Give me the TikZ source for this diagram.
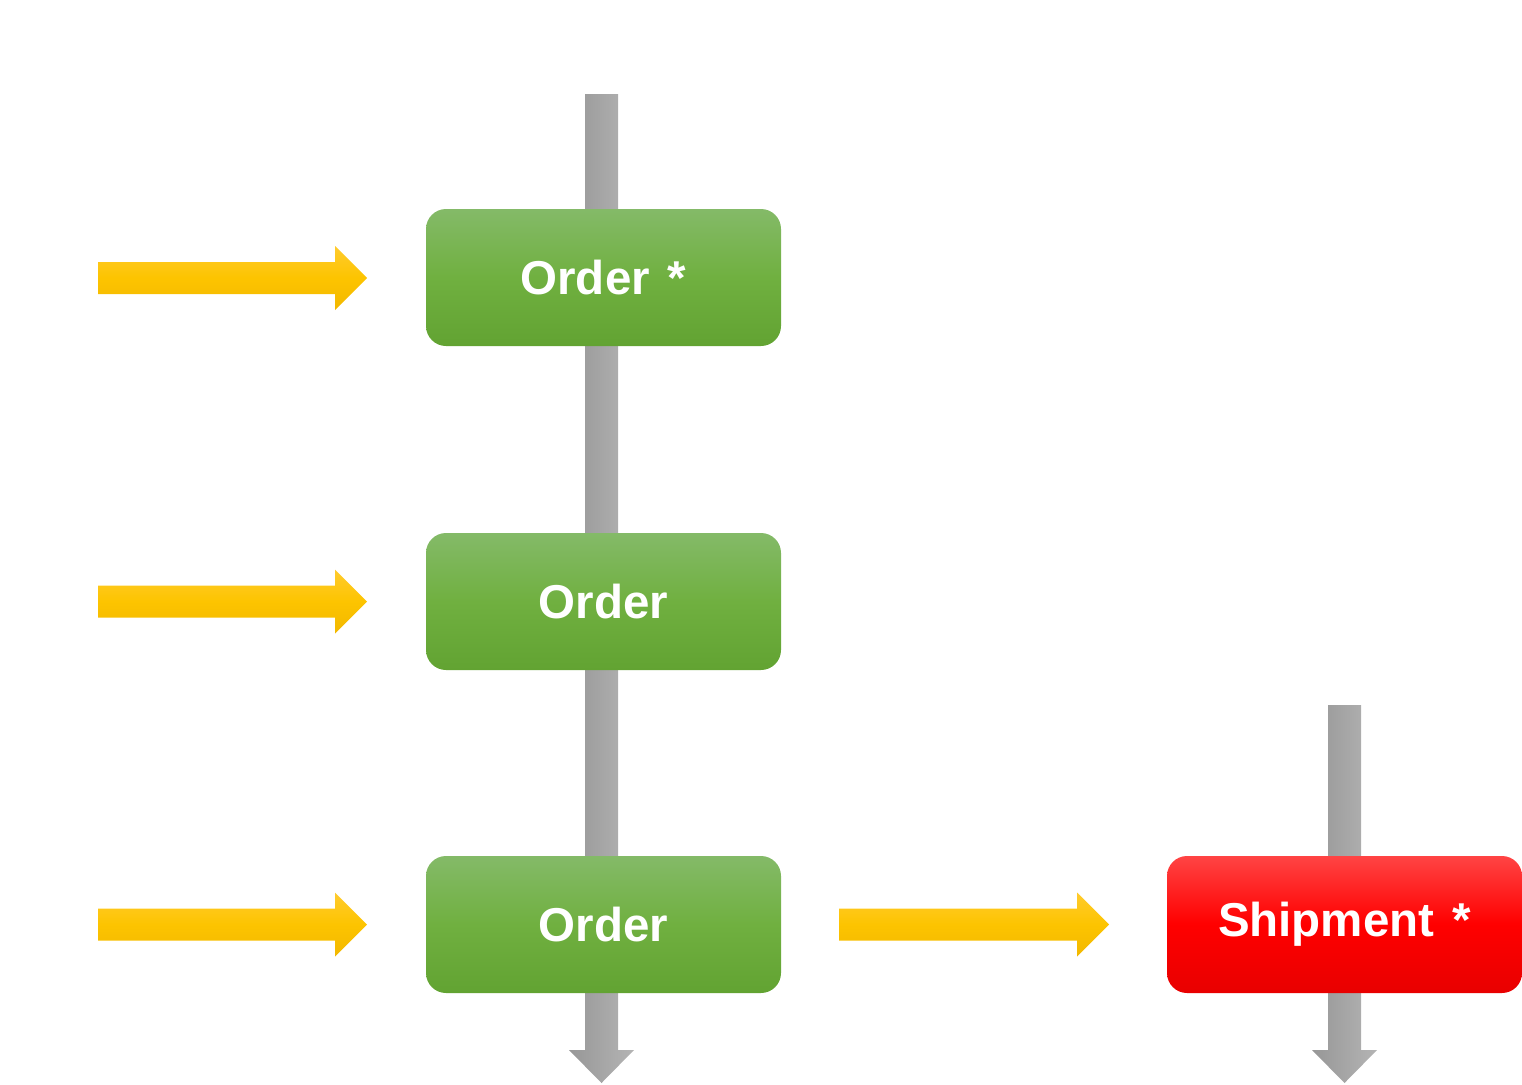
\documentclass[tikz,border=0pt]{standalone}
\usepackage{fontspec}
\setmainfont{Liberation Sans}
\definecolor{gtop}{HTML}{84BA68}
\definecolor{gmid}{HTML}{70B040}
\definecolor{gbot}{HTML}{62A332}
\definecolor{rtop}{HTML}{FF4444}
\definecolor{rmid}{HTML}{FF0000}
\definecolor{rbot}{HTML}{E80000}
\definecolor{ytop}{HTML}{FFCB2E}
\definecolor{ymid}{HTML}{FDC400}
\definecolor{ybot}{HTML}{F2B800}
\definecolor{barl}{HTML}{979797}
\definecolor{barr}{HTML}{B4B4B4}
\tikzset{
  boxbase/.style={rounded corners=20pt, minimum width=355pt, minimum height=137pt,
    inner sep=0pt, text=white, font=\fontsize{47.5}{50}\selectfont\bfseries},
  gbox/.style={boxbase, top color=gtop, bottom color=gbot, middle color=gmid},
  rbox/.style={boxbase, top color=rtop, bottom color=rbot, middle color=rmid},
  barshade/.style={left color=barl, right color=barr},
  yshade/.style={top color=ytop, bottom color=ybot, middle color=ymid}
}
\begin{document}
\begin{tikzpicture}[x=1pt,y=-1pt]
\useasboundingbox (0,0) rectangle (1522,1084);
% gray bars
\shade[barshade] (585,94) -- (618,94) -- (618,1050) -- (634,1050) -- (601.5,1083) -- (569,1050) -- (585,1050) -- cycle;
\shade[barshade] (1328,705) -- (1361,705) -- (1361,1050) -- (1377,1050) -- (1344.5,1083) -- (1312,1050) -- (1328,1050) -- cycle;
% boxes
\node[gbox] (o1) at (603.5,277.5) {Order\hspace{0.38em}*};
\node[gbox] (o2) at (603.5,601.5) {Order};
\node[gbox] (o3) at (603.5,924.5) {Order};
\node[rbox] (s1) at (1344.5,924.5) {Shipment\hspace{0.38em}*};
% yellow arrows
\foreach \yy in {278,601.5,924.5}{
  \shade[yshade] (98,\yy-16) -- (335,\yy-16) -- (335,\yy-32) -- (367,\yy) -- (335,\yy+32) -- (335,\yy+16) -- (98,\yy+16) -- cycle;
}
\shade[yshade] (839,908.5) -- (1077,908.5) -- (1077,892.5) -- (1109,924.5) -- (1077,956.5) -- (1077,940.5) -- (839,940.5) -- cycle;
\end{tikzpicture}
\end{document}
